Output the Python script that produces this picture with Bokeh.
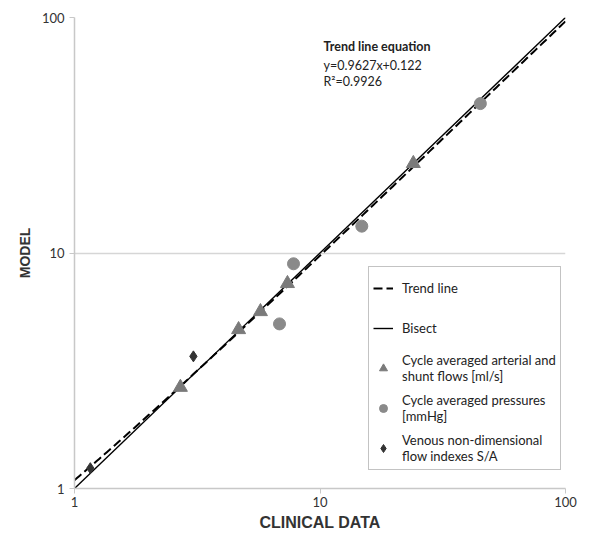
import numpy as np
from bokeh.plotting import figure
from bokeh.models import (FixedTicker, PrintfTickFormatter, Label, Legend, LegendItem,
                          Range1d)
from bokeh.embed import file_html
from bokeh.resources import INLINE

# Data
flow_clinical = [2.70, 4.66, 5.72, 7.37, 24.0]
flow_model = [2.69, 4.73, 5.64, 7.42, 24.0]
press_clinical = [6.84, 7.8, 14.8, 45.0]
press_model = [5.0, 9.0, 13.0, 43.1]
ven_clinical = [1.16, 3.05]
ven_model = [1.22, 3.64]
trend_slope = 0.9627
trend_intercept = 0.122
ticks = [1, 10, 100]

p = figure(width=584, height=536, x_axis_type="log", y_axis_type="log",
           x_range=Range1d(1, 100), y_range=Range1d(1, 100),
           output_backend="svg", toolbar_location=None,
           min_border_left=74, min_border_right=19, min_border_top=17, min_border_bottom=48)
p.outline_line_color = None
p.background_fill_color = "white"

# grid
p.xgrid.visible = False
p.ygrid.ticker = FixedTicker(ticks=ticks)
p.ygrid.grid_line_color = "#d6d6d6"
p.ygrid.grid_line_width = 1.5

for ax in (p.xaxis[0], p.yaxis[0]):
    ax.ticker = FixedTicker(ticks=ticks)
    ax.formatter = PrintfTickFormatter(format="%d")
    ax.axis_line_color = "#c8c8c8"
    ax.axis_line_width = 1.5
    ax.major_tick_line_color = "#c8c8c8"
    ax.major_tick_out = 5
    ax.major_tick_in = 0
    ax.minor_tick_line_color = None
    ax.major_label_text_font = "Lato"
    ax.major_label_text_font_size = "13px"
    ax.major_label_text_color = "#333333"
    ax.axis_label_text_font = "Liberation Sans"
    ax.axis_label_text_font_style = "bold"
    ax.axis_label_text_color = "#333333"

p.xaxis.major_label_standoff = 3
p.xaxis.axis_label = "CLINICAL DATA"
p.xaxis.axis_label_text_font_size = "16px"
p.xaxis.axis_label_standoff = 4
p.yaxis.axis_label = "MODEL"
p.yaxis.axis_label_text_font_size = "14px"
p.yaxis.axis_label_standoff = 6

# lines
xs = np.logspace(0, 2, 200)
trend = p.line(xs, trend_slope * xs + trend_intercept, line_color="black", line_width=2,
               line_dash="9 4")
bis = p.line([1, 100], [1, 100], line_color="black", line_width=1.4)

tri = p.scatter(flow_clinical, flow_model, marker="triangle", size=14,
                fill_color="#7a7a7a", line_color="#7a7a7a")
circ = p.scatter(press_clinical, press_model, marker="circle", size=12,
                 fill_color="#8a8a8a", line_color="#8a8a8a")
dia = p.scatter(ven_clinical, ven_model, marker="diamond", size=11,
                fill_color="#333333", line_color="#333333")

legend = Legend(items=[
    LegendItem(label="Trend line", renderers=[trend]),
    LegendItem(label="Bisect", renderers=[bis]),
    LegendItem(label="Cycle averaged arterial and\nshunt flows [ml/s]", renderers=[tri]),
    LegendItem(label="Cycle averaged pressures\n[mmHg]", renderers=[circ]),
    LegendItem(label="Venous non-dimensional\nflow indexes S/A", renderers=[dia]),
], location=(294, 18))
legend.label_text_font = "Lato"
legend.label_text_font_size = "13px"
legend.label_text_line_height = 1.35
legend.label_text_color = "#222222"
legend.border_line_color = "#888888"
legend.border_line_width = 1
legend.background_fill_alpha = 1
legend.glyph_width = 20
legend.glyph_height = 34
legend.spacing = 6
legend.padding = 4
legend.label_standoff = 9
legend.margin = 0
p.add_layout(legend, "center")

for txt, y, style in [("Trend line equation", 435, "bold"),
                      ("y=0.9627x+0.122", 416, "normal"),
                      ("R\u00b2=0.9926", 400, "normal")]:
    p.add_layout(Label(x=249, y=y, x_units="screen", y_units="screen", text=txt,
                       text_font="Lato", text_font_size="12.5px",
                       text_font_style=style, text_color="#222222"))

open("out.html", "w").write(file_html(p, INLINE))
